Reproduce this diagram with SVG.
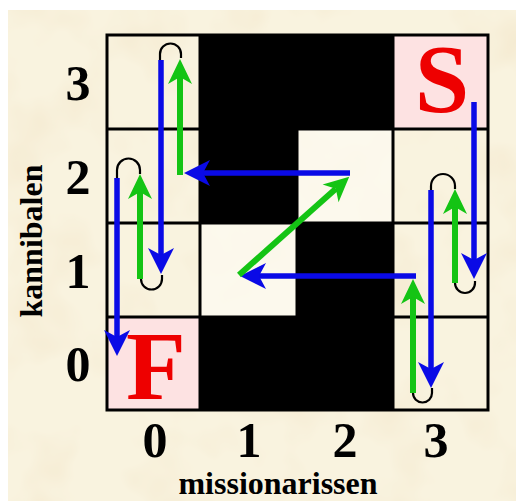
<svg xmlns="http://www.w3.org/2000/svg" width="516" height="501" viewBox="0 0 516 501">
<style>
.num{font-family:"Liberation Serif","Times New Roman",serif;font-weight:bold;font-size:50px;fill:#000;text-anchor:middle}
.axis{font-family:"Liberation Serif","Times New Roman",serif;font-weight:bold;font-size:32px;fill:#000;text-anchor:middle}
.big{font-family:"Liberation Serif","Times New Roman",serif;font-weight:bold;font-size:98px;fill:#ee0000;text-anchor:middle}
.grid{stroke:#000;stroke-width:3;fill:none}
.blue{stroke:#0a0ae6;stroke-width:5.5;fill:none;marker-end:url(#ab)}
.green{stroke:#14c414;stroke-width:6;fill:none;marker-end:url(#ag)}
.loop{stroke:#000;stroke-width:2.2;fill:none}
.pink{fill:#fde2e2}
.light{fill:#fdfaf0;opacity:0.8}
</style>
<defs>
<filter id="paper" x="0" y="0" width="100%" height="100%">
<feTurbulence type="fractalNoise" baseFrequency="0.014" numOctaves="3" seed="7"/>
<feColorMatrix type="matrix" values="0 0 0 0 0.88  0 0 0 0 0.77  0 0 0 0 0.56  1.3 0 0 0 -0.62"/>
</filter>
<marker id="ab" markerUnits="userSpaceOnUse" markerWidth="28" markerHeight="28" refX="7" refY="13" orient="auto" overflow="visible">
<path d="M0,0 L26,13 L0,26 L7,13 Z" fill="#0a0ae6"/>
</marker>
<marker id="ag" markerUnits="userSpaceOnUse" markerWidth="28" markerHeight="28" refX="7" refY="12" orient="auto" overflow="visible">
<path d="M0,0 L25,12 L0,24 L7,12 Z" fill="#14c414"/>
</marker>
</defs>
<rect width="516" height="501" fill="#fff"/>
<g id="background">
<rect x="8" y="10" width="508" height="491" fill="#f9f3df"/>
<rect x="8" y="10" width="508" height="491" filter="url(#paper)"/>
</g>
<g id="cells">
<g id="cell-0-0"><rect class="pink" x="107" y="317" width="93" height="93"/></g>
<g id="cell-3-3"><rect class="pink" x="393" y="35" width="95" height="94"/></g>
<g id="cell-1-1"><rect class="light" x="200" y="223" width="97" height="94"/></g>
<g id="cell-2-2"><rect class="light" x="297" y="129" width="96" height="94"/></g>
</g>
<g id="grid">
<rect class="grid" x="107" y="35" width="381" height="375"/>
<path class="grid" d="M200,35V410 M297,35V410 M393,35V410 M107,129H488 M107,223H488 M107,317H488"/>
</g>
<g id="blocked">
<path d="M200,35 H393 V129 H297 V223 H393 V410 H200 V317 H297 V223 H200 Z" fill="#000"/>
</g>
<g id="labels">
<text class="big" x="156" y="399">F</text>
<text class="big" x="442" y="112">S</text>
<text class="num" x="78" y="100">3</text>
<text class="num" x="78" y="194">2</text>
<text class="num" x="78" y="288">1</text>
<text class="num" x="78" y="381">0</text>
<text class="num" x="155" y="457">0</text>
<text class="num" x="249" y="457">1</text>
<text class="num" x="345" y="457">2</text>
<text class="num" x="436" y="457">3</text>
<text class="axis" x="278" y="494">missionarissen</text>
<text class="axis" transform="translate(42,241) rotate(-90)">kannibalen</text>
</g>
<g id="connectors">
<path class="blue" d="M474,102 V260"/>
<path class="loop" d="M475,281 V283 A10,10 0 0 1 455,283 V281"/>
<path class="green" d="M455,283 V207"/>
<path class="loop" d="M455,189 V186 A12,12 0 0 0 431,186 V190"/>
<path class="blue" d="M431,190 V369"/>
<path class="loop" d="M432,388 V393 A9.5,9.5 0 0 1 413,393 V391"/>
<path class="green" d="M413,393 V297"/>
<path class="blue" d="M416,276 H259"/>
<path class="green" d="M239,275 L335.8,188.7"/>
<path class="blue" d="M350,173 H203"/>
<path class="green" d="M180,175 V77"/>
<path class="loop" d="M181,58 V54 A10.5,10.5 0 0 0 160,54 V60"/>
<path class="blue" d="M161,60 V255"/>
<path class="loop" d="M162,275 V279 A10.5,10.5 0 0 1 141,279 V277"/>
<path class="green" d="M140,279 V192"/>
<path class="loop" d="M140,174 V170 A11.5,11.5 0 0 0 117,170 V178"/>
<path class="blue" d="M117,178 V337"/>
</g>
</svg>
